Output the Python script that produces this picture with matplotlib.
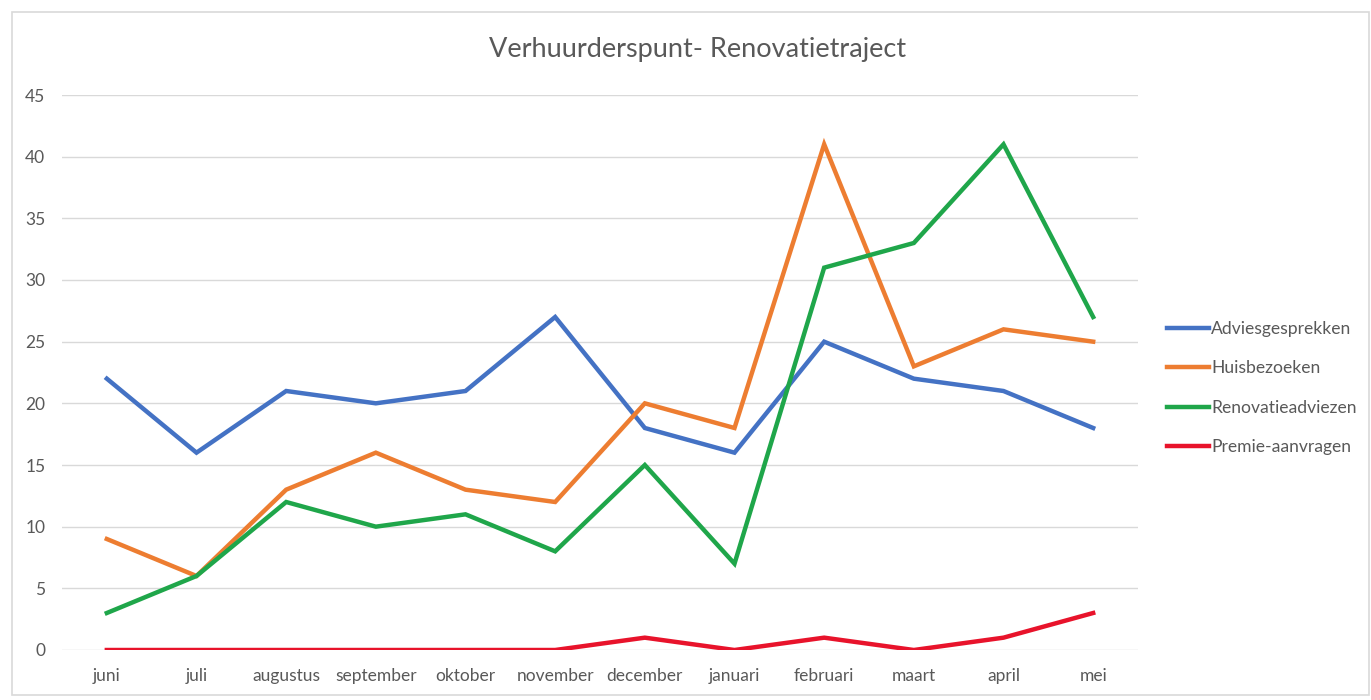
import matplotlib
matplotlib.use("Agg")
import matplotlib.pyplot as plt
from matplotlib.patches import Rectangle

maanden = ["juni", "juli", "augustus", "september", "oktober", "november",
           "december", "januari", "februari", "maart", "april", "mei"]
advies = [22, 16, 21, 20, 21, 27, 18, 16, 25, 22, 21, 18]
huisbezoeken = [9, 6, 13, 16, 13, 12, 20, 18, 41, 23, 26, 25]
renovatie = [3, 6, 12, 10, 11, 8, 15, 7, 31, 33, 41, 27]
premie = [0, 0, 0, 0, 0, 0, 1, 0, 1, 0, 1, 3]

plt.rcParams['font.family'] = ['Lato', 'DejaVu Sans']

fig = plt.figure(figsize=(13.71, 7.0), dpi=100)
# chart frame
fig.patches.append(Rectangle((12 / 1371, 5 / 700), 1 - 14 / 1371, 1 - 17 / 700,
                             transform=fig.transFigure, fill=False,
                             edgecolor='#d9d9d9', linewidth=1.2))
ax = fig.add_axes([62 / 1371, 1 - 650 / 700, (1138 - 62) / 1371, (650 - 95) / 700])

x = list(range(len(maanden)))
lw = 3.2
ax.plot(x, advies, color='#4472C4', lw=lw, label='Adviesgesprekken', solid_joinstyle='miter')
ax.plot(x, huisbezoeken, color='#ED7D31', lw=lw, label='Huisbezoeken', solid_joinstyle='miter')
ax.plot(x, renovatie, color='#1FA64A', lw=lw, label='Renovatieadviezen', solid_joinstyle='miter')
ax.plot(x, premie, color='#E8132B', lw=lw, label='Premie-aanvragen', solid_joinstyle='miter')

ax.set_xlim(-0.5, 11.5)
ax.set_ylim(0, 45)
ax.set_yticks(range(0, 46, 5))
ax.set_xticks(x)
ax.set_xticklabels(maanden)
ax.grid(axis='y', color='#d9d9d9', lw=1)
ax.set_axisbelow(True)
for s in ax.spines.values():
    s.set_visible(False)
ax.tick_params(length=0, labelsize=12.5, colors='#595959', pad=13)
ax.tick_params(axis='y', pad=12)

fig.text(698 / 1371, 1 - 50 / 700, 'Verhuurderspunt- Renovatietraject',
         ha='center', va='center', fontsize=19.5, color='#595959')

ax.legend(loc='center left', bbox_to_anchor=(1.012, 0.472), frameon=False,
          fontsize=12.6, labelcolor='#595959', handlelength=2.4, handletextpad=0.15,
          labelspacing=1.33)

fig.savefig('out.png', dpi=100)
